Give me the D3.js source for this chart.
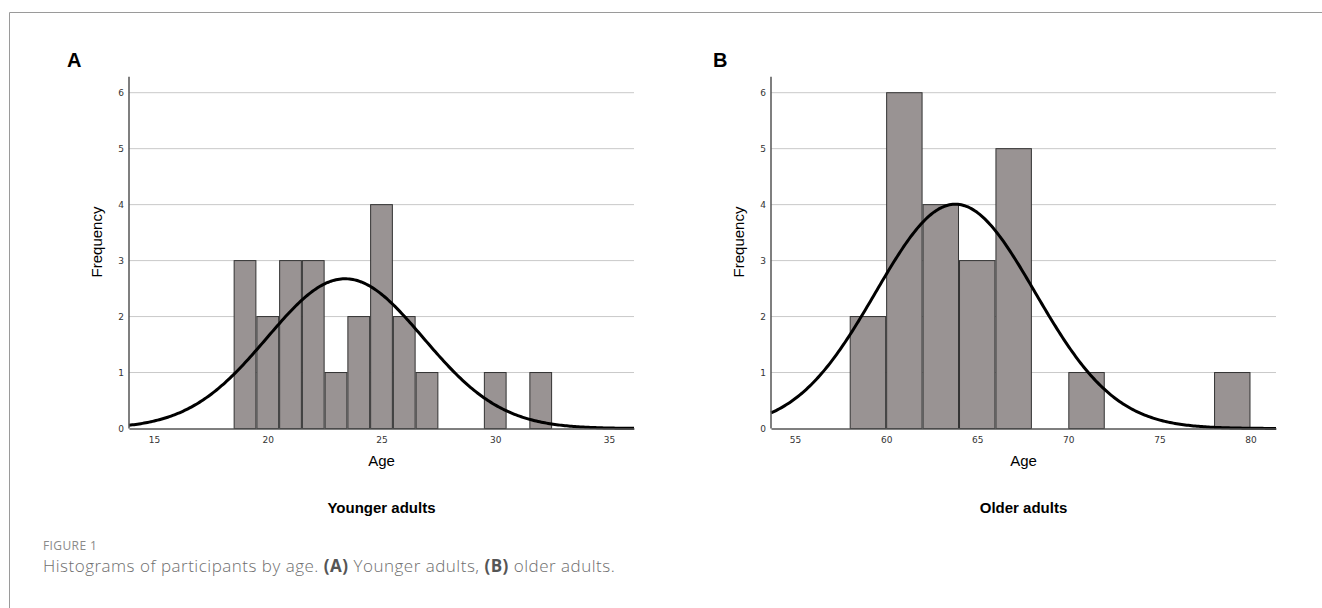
<!DOCTYPE html>
<meta charset="utf-8">
<style>
body { margin:0; background:#fff; }
svg text { font-family: "Liberation Sans", Arial, sans-serif; }
.tick text { font-family: "DejaVu Sans", sans-serif; font-size:9px; fill:#333; }
.grid line { stroke:#c9c9c9; stroke-width:1; }
.bar { fill:#999393; stroke:#333; stroke-width:1; }
.curve { fill:none; stroke:#000; stroke-width:3; }
.caption { font-family:"Open Sans", sans-serif; }
</style>
<body>
<svg width="1322" height="608" id="vis"></svg>
</body>
<script src="https://d3js.org/d3.v7.min.js"></script>
<script>
// panel A - younger adults, one-year bins (bin centre ages)
var agesA = [19, 20, 21, 22, 23, 24, 25, 26, 27, 30, 32];
var countsA = [3, 2, 3, 3, 1, 2, 4, 2, 1, 1, 1];
var binWidthA = 1;
var ticksA = [15, 20, 25, 30, 35];
var fitA = {mean: 23.4, sd: 3.43, n: 23};

// panel B - older adults, two-year bins (bin start ages)
var agesB = [58, 60, 62, 64, 66, 70, 78];
var countsB = [2, 6, 4, 3, 5, 1, 1];
var binWidthB = 2;
var ticksB = [55, 60, 65, 70, 75, 80];
var fitB = {mean: 63.8, sd: 4.38, n: 22};

var yTicks = [0, 1, 2, 3, 4, 5, 6];

var svg = d3.select("svg");

// frame
svg.append("path")
    .attr("d", "M9.5,608V12.5H1322")
    .attr("fill", "none")
    .attr("stroke", "#9a9a9a")
    .attr("stroke-width", 1);

function panel(opt) {
    var x = d3.scaleLinear().domain(opt.domain).range([opt.left, opt.right]);
    var y = d3.scaleLinear().domain([0, 6]).range([428.5, 92.7]);
    var g = svg.append("g");

    // gridlines
    g.append("g").attr("class", "grid")
      .selectAll("line").data(yTicks.slice(1)).enter().append("line")
        .attr("x1", opt.left).attr("x2", opt.right)
        .attr("y1", function(d){ return y(d); })
        .attr("y2", function(d){ return y(d); });

    // bars
    g.selectAll(".bar").data(opt.bins).enter().append("rect")
        .attr("class", "bar")
        .attr("x", function(d){ return x(d.lo) + 0.5; })
        .attr("y", function(d){ return y(d.n); })
        .attr("width", function(d){ return x(d.hi) - x(d.lo) - 1; })
        .attr("height", function(d){ return y(0) - y(d.n); });

    // normal curve
    var f = opt.fit, bw = opt.binWidth;
    var pts = d3.range(opt.domain[0], opt.domain[1] + 0.001, (opt.domain[1] - opt.domain[0]) / 300)
        .map(function(a){
            var z = (a - f.mean) / f.sd;
            return [a, f.n * bw * Math.exp(-0.5 * z * z) / (f.sd * Math.sqrt(2 * Math.PI))];
        });
    g.append("path").attr("class", "curve")
        .attr("d", d3.line().x(function(d){ return x(d[0]); }).y(function(d){ return y(d[1]); })(pts));

    // axes
    var xa = g.append("g")
        .attr("transform", "translate(0," + y(0) + ")")
        .call(d3.axisBottom(x).tickValues(opt.ticks).tickFormat(d3.format("d")).tickSize(0).tickPadding(8));
    xa.select(".domain").attr("stroke", "#555").attr("stroke-width", 1.5);

    var ya = g.append("g")
        .attr("transform", "translate(" + opt.left + ",0)")
        .call(d3.axisLeft(y).tickValues(yTicks).tickFormat(d3.format("d")).tickSize(0).tickPadding(5));
    ya.select(".domain").attr("d", "M0," + y(0) + "V" + (y(6) - 16))
        .attr("stroke", "#555").attr("stroke-width", 1.5);

    var cx = (opt.left + opt.right) / 2;
    g.append("text").attr("x", cx).attr("y", 466)
        .attr("text-anchor", "middle").style("font-size", "15px").text("Age");
    g.append("text")
        .attr("transform", "translate(" + (opt.left - 27) + ",242) rotate(-90)")
        .attr("text-anchor", "middle").style("font-size", "15px").text("Frequency");
    g.append("text").attr("x", cx).attr("y", 513)
        .attr("text-anchor", "middle").style("font-size", "15px").style("font-weight", "bold")
        .text(opt.title);
    g.append("text").attr("x", opt.letterX).attr("y", 67)
        .style("font-size", "20px").style("font-weight", "bold").text(opt.letter);
}

panel({
    left: 129, right: 634, domain: [13.9, 36.1], ticks: ticksA,
    bins: agesA.map(function(a, i){ return {lo: a - binWidthA / 2, hi: a + binWidthA / 2, n: countsA[i]}; }),
    binWidth: binWidthA, fit: fitA, title: "Younger adults", letter: "A", letterX: 67
});
panel({
    left: 771, right: 1276, domain: [53.68, 81.4], ticks: ticksB,
    bins: agesB.map(function(a, i){ return {lo: a, hi: a + binWidthB, n: countsB[i]}; }),
    binWidth: binWidthB, fit: fitB, title: "Older adults", letter: "B", letterX: 713
});

// caption
svg.append("text").attr("class", "caption")
    .attr("x", 43).attr("y", 550)
    .style("font-size", "12px").style("fill", "#8a8a8a").style("letter-spacing", "0.4px")
    .text("FIGURE 1");
var cap = svg.append("text").attr("class", "caption")
    .attr("x", 43).attr("y", 572)
    .style("font-size", "17px").style("fill", "#6e6e6e").style("font-weight", 300)
    .style("letter-spacing", "0.5px");
cap.append("tspan").text("Histograms of participants by age. ");
cap.append("tspan").style("font-weight", "bold").style("fill", "#555").text("(A)");
cap.append("tspan").text(" Younger adults, ");
cap.append("tspan").style("font-weight", "bold").style("fill", "#555").text("(B)");
cap.append("tspan").text(" older adults.");
</script>
